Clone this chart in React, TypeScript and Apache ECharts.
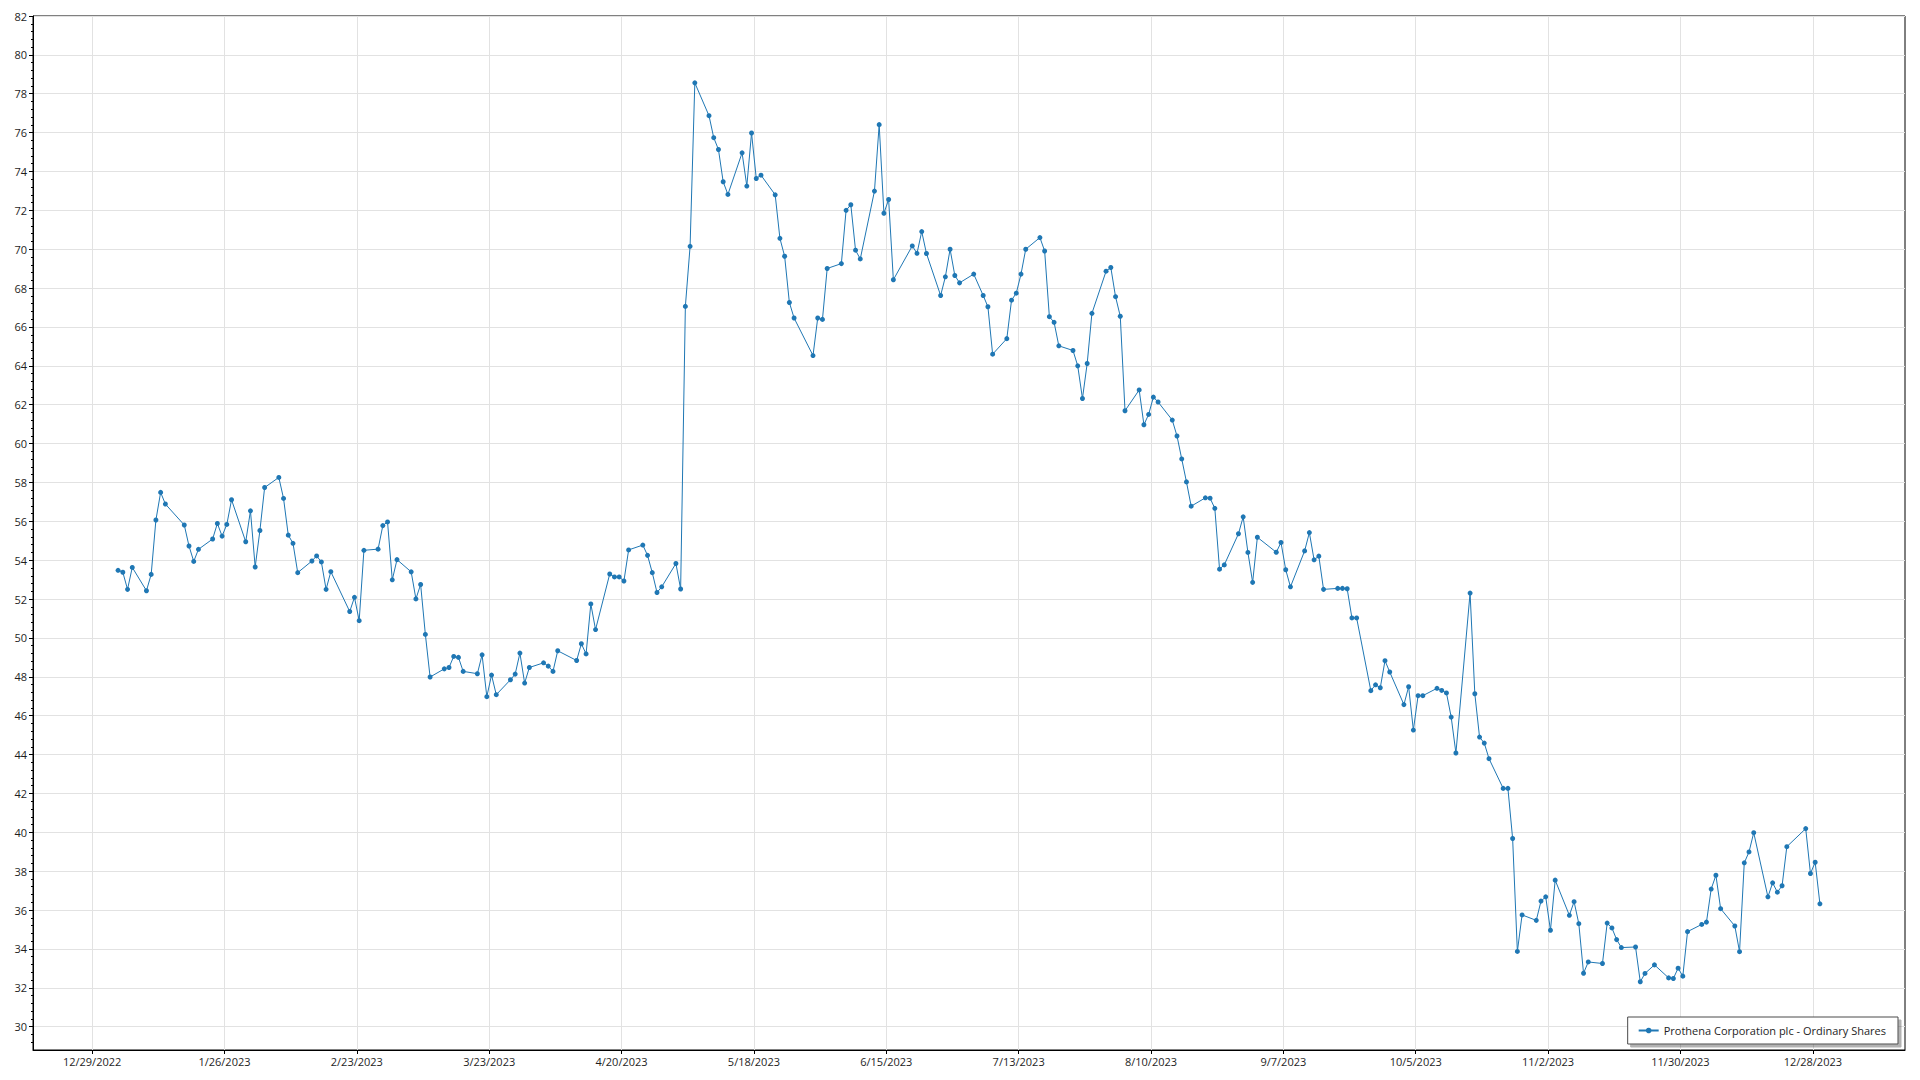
import React, { useEffect, useRef } from "react";
import * as echarts from "echarts";

const seriesName = "Prothena Corporation plc - Ordinary Shares";

const dates: string[] = [
  "2023-01-03","2023-01-04","2023-01-05","2023-01-06","2023-01-09","2023-01-10","2023-01-11","2023-01-12","2023-01-13","2023-01-17",
  "2023-01-18","2023-01-19","2023-01-20","2023-01-23","2023-01-24","2023-01-25","2023-01-26","2023-01-27","2023-01-30","2023-01-31",
  "2023-02-01","2023-02-02","2023-02-03","2023-02-06","2023-02-07","2023-02-08","2023-02-09","2023-02-10","2023-02-13","2023-02-14",
  "2023-02-15","2023-02-16","2023-02-17","2023-02-21","2023-02-22","2023-02-23","2023-02-24","2023-02-27","2023-02-28",
  "2023-03-01","2023-03-02","2023-03-03","2023-03-06","2023-03-07","2023-03-08","2023-03-09","2023-03-10","2023-03-13","2023-03-14",
  "2023-03-15","2023-03-16","2023-03-17","2023-03-20","2023-03-21","2023-03-22","2023-03-23","2023-03-24","2023-03-27","2023-03-28",
  "2023-03-29","2023-03-30","2023-03-31",
  "2023-04-03","2023-04-04","2023-04-05","2023-04-06","2023-04-10","2023-04-11","2023-04-12","2023-04-13","2023-04-14","2023-04-17",
  "2023-04-18","2023-04-19","2023-04-20","2023-04-21","2023-04-24","2023-04-25","2023-04-26","2023-04-27","2023-04-28",
  "2023-05-01","2023-05-02","2023-05-03","2023-05-04","2023-05-05","2023-05-08","2023-05-09","2023-05-10","2023-05-11","2023-05-12",
  "2023-05-15","2023-05-16","2023-05-17","2023-05-18","2023-05-19","2023-05-22","2023-05-23","2023-05-24","2023-05-25","2023-05-26",
  "2023-05-30","2023-05-31",
  "2023-06-01","2023-06-02","2023-06-05","2023-06-06","2023-06-07","2023-06-08","2023-06-09","2023-06-12","2023-06-13","2023-06-14",
  "2023-06-15","2023-06-16","2023-06-20","2023-06-21","2023-06-22","2023-06-23","2023-06-26","2023-06-27","2023-06-28","2023-06-29",
  "2023-06-30",
  "2023-07-03","2023-07-05","2023-07-06","2023-07-07","2023-07-10","2023-07-11","2023-07-12","2023-07-13","2023-07-14","2023-07-17",
  "2023-07-18","2023-07-19","2023-07-20","2023-07-21","2023-07-24","2023-07-25","2023-07-26","2023-07-27","2023-07-28","2023-07-31",
  "2023-08-01","2023-08-02","2023-08-03","2023-08-04","2023-08-07","2023-08-08","2023-08-09","2023-08-10","2023-08-11","2023-08-14",
  "2023-08-15","2023-08-16","2023-08-17","2023-08-18","2023-08-21","2023-08-22","2023-08-23","2023-08-24","2023-08-25","2023-08-28",
  "2023-08-29","2023-08-30","2023-08-31",
  "2023-09-01","2023-09-05","2023-09-06","2023-09-07","2023-09-08","2023-09-11","2023-09-12","2023-09-13","2023-09-14","2023-09-15",
  "2023-09-18","2023-09-19","2023-09-20","2023-09-21","2023-09-22","2023-09-25","2023-09-26","2023-09-27","2023-09-28","2023-09-29",
  "2023-10-02","2023-10-03","2023-10-04","2023-10-05","2023-10-06","2023-10-09","2023-10-10","2023-10-11","2023-10-12","2023-10-13",
  "2023-10-16","2023-10-17","2023-10-18","2023-10-19","2023-10-20","2023-10-23","2023-10-24","2023-10-25","2023-10-26","2023-10-27",
  "2023-10-30","2023-10-31",
  "2023-11-01","2023-11-02","2023-11-03","2023-11-06","2023-11-07","2023-11-08","2023-11-09","2023-11-10","2023-11-13","2023-11-14",
  "2023-11-15","2023-11-16","2023-11-17","2023-11-20","2023-11-21","2023-11-22","2023-11-24","2023-11-27","2023-11-28","2023-11-29",
  "2023-11-30",
  "2023-12-01","2023-12-04","2023-12-05","2023-12-06","2023-12-07","2023-12-08","2023-12-11","2023-12-12","2023-12-13","2023-12-14",
  "2023-12-15","2023-12-18","2023-12-19","2023-12-20","2023-12-21","2023-12-22","2023-12-26","2023-12-27","2023-12-28","2023-12-29",
];

const prices: number[] = [
  53.48, 53.38, 52.50, 53.63, 52.43, 53.27, 56.07, 57.49, 56.89, 55.81,
  54.73, 53.94, 54.56, 55.09, 55.89, 55.24, 55.84, 57.11, 54.95, 56.54,
  53.65, 55.53, 57.74, 58.26, 57.18, 55.29, 54.87, 53.36, 53.96, 54.22,
  53.91, 52.50, 53.41, 51.36, 52.09, 50.89, 54.51, 54.57, 55.78,
  55.97, 52.99, 54.03, 53.40, 52.01, 52.75, 50.18, 47.99, 48.41, 48.48,
  49.05, 49.00, 48.28, 48.16, 49.13, 46.98, 48.09, 47.08, 47.85, 48.14,
  49.22, 47.68, 48.48,
  48.72, 48.55, 48.28, 49.34, 48.84, 49.70, 49.18, 51.75, 50.43, 53.29,
  53.14, 53.14, 52.93, 54.53, 54.78, 54.25, 53.36, 52.34, 52.63,
  53.83, 52.52, 67.06, 70.15, 78.56, 76.87, 75.74, 75.13, 73.47, 72.82,
  74.96, 73.25, 75.98, 73.64, 73.81, 72.80, 70.56, 69.64, 67.26, 66.46,
  64.53, 66.46,
  66.39, 69.01, 69.26, 72.00, 72.29, 69.95, 69.50, 72.99, 76.41, 71.85,
  72.56, 68.43, 70.17, 69.79, 70.91, 69.78, 67.62, 68.58, 70.00, 68.65,
  68.27,
  68.72, 67.62, 67.04, 64.60, 65.40, 67.38, 67.74, 68.72, 70.00, 70.60,
  69.91, 66.53, 66.24, 65.03, 64.79, 64.00, 62.32, 64.12, 66.70, 68.87,
  69.06, 67.56, 66.55, 61.69, 62.76, 60.97, 61.50, 62.39, 62.14, 61.21,
  60.39, 59.21, 58.03, 56.78, 57.21, 57.19, 56.67, 53.54, 53.76, 55.36,
  56.23, 54.40, 52.86,
  55.18, 54.41, 54.91, 53.51, 52.63, 54.48, 55.42, 54.02, 54.21, 52.50,
  52.55, 52.55, 52.53, 51.03, 51.03, 47.29, 47.59, 47.44, 48.83, 48.25,
  46.57, 47.49, 45.26, 47.03, 47.03, 47.41, 47.30, 47.17, 45.93, 44.08,
  52.31, 47.13, 44.90, 44.59, 43.79, 42.26, 42.26, 39.68, 33.87, 35.75,
  35.47, 36.46,
  36.68, 34.96, 37.54, 35.73, 36.43, 35.30, 32.75, 33.33, 33.25, 35.33,
  35.08, 34.48, 34.07, 34.10, 32.31, 32.74, 33.18, 32.51, 32.48, 33.01,
  32.60,
  34.89, 35.26, 35.38, 37.08, 37.79, 36.07, 35.18, 33.86, 38.43, 38.99,
  39.98, 36.68, 37.40, 36.92, 37.25, 39.26, 40.19, 37.88, 38.46, 36.32,
];

const xTickLabels: string[] = [
  "12/29/2022", "1/26/2023", "2/23/2023", "3/23/2023", "4/20/2023", "5/18/2023", "6/15/2023",
  "7/13/2023", "8/10/2023", "9/7/2023", "10/5/2023", "11/2/2023", "11/30/2023", "12/28/2023",
];

const yTickValues: number[] = [
  30, 32, 34, 36, 38, 40, 42, 44, 46, 48, 50, 52, 54, 56, 58, 60, 62, 64, 66, 68, 70, 72, 74, 76, 78, 80, 82,
];

const DAY = 86400000;
const ORIGIN = Date.UTC(2022, 11, 29);
const isoToDay = (iso: string) => {
  const [y, m, d] = iso.split("-").map(Number);
  return (Date.UTC(y, m - 1, d) - ORIGIN) / DAY;
};
const labelToDay = (s: string) => {
  const [m, d, y] = s.split("/").map(Number);
  return (Date.UTC(y, m - 1, d) - ORIGIN) / DAY;
};

export default function App() {
  const ref = useRef<HTMLDivElement>(null);

  useEffect(() => {
    if (!ref.current) return;
    const chart = echarts.init(ref.current, undefined, { renderer: "svg" });

    const seriesData = dates.map((d, i) => [isoToDay(d) + 0.5, prices[i]]);
    const xTicks = xTickLabels.map(labelToDay);
    const minorY: number[] = [];
    for (let k = 73; k <= 204; k++) {
      const v = Math.round(k * 4) / 10;
      if (Math.abs(v / 2 - Math.round(v / 2)) > 1e-6) minorY.push(v);
    }

    const font = "'Open Sans', 'Noto Sans', sans-serif";

    chart.setOption({
      animation: false,
      backgroundColor: "#ffffff",
      textStyle: { fontFamily: font },
      grid: {
        left: 33,
        right: 15,
        top: 16,
        bottom: 30,
        show: true,
        borderColor: "#000000",
        borderWidth: 1,
        backgroundColor: "transparent",
        containLabel: false,
      },
      legend: {
        data: [seriesName],
        right: 22,
        bottom: 36,
        orient: "horizontal",
        itemWidth: 20,
        itemHeight: 7,
        itemGap: 6,
        padding: [8, 12, 8, 10],
        backgroundColor: "#ffffff",
        borderColor: "#4a4a4a",
        borderWidth: 1,
        borderRadius: 0,
        shadowColor: "rgba(0,0,0,0.3)",
        shadowBlur: 1,
        shadowOffsetX: 3,
        shadowOffsetY: 3,
        textStyle: { fontFamily: font, fontSize: 11, color: "#1e1e1e" },
      },
      xAxis: {
        type: "value",
        min: -12.5,
        max: 383.5,
        axisLine: { show: true, onZero: false, lineStyle: { color: "#000000", width: 1 } },
        axisTick: {
          show: true,
          length: 4,
          customValues: xTicks,
          lineStyle: { color: "#000000" },
        },
        axisLabel: {
          customValues: xTicks,
          margin: 6,
          fontSize: 11,
          color: "#1e1e1e",
          fontFamily: font,
          formatter: (v: number) => {
            const i = xTicks.findIndex((t) => Math.abs(t - v) < 0.01);
            return i >= 0 ? xTickLabels[i] : "";
          },
        },
        splitLine: { show: true, lineStyle: { color: "#e2e2e2", width: 1 } },
      },
      yAxis: [
        {
          type: "value",
          min: 28.8,
          max: 82,
          axisLine: { show: true, onZero: false, lineStyle: { color: "#000000", width: 1 } },
          axisTick: {
            show: true,
            length: 4,
            customValues: yTickValues,
            lineStyle: { color: "#000000" },
          },
          axisLabel: {
            customValues: yTickValues,
            margin: 6,
            fontSize: 11,
            color: "#1e1e1e",
            fontFamily: font,
          },
          splitLine: { show: true, lineStyle: { color: "#e2e2e2", width: 1 } },
        },
        {
          type: "value",
          min: 28.8,
          max: 82,
          position: "left",
          axisLine: { show: false, onZero: false },
          axisTick: {
            show: true,
            length: 2,
            customValues: minorY,
            lineStyle: { color: "#000000" },
          },
          axisLabel: { show: false },
          splitLine: { show: false },
        },
      ],
      series: [
        {
          name: seriesName,
          type: "line",
          yAxisIndex: 0,
          data: seriesData,
          symbol: "circle",
          symbolSize: 5,
          showSymbol: true,
          showAllSymbol: true,
          color: "#1f77b4",
          lineStyle: { width: 1, color: "#1f77b4" },
          itemStyle: { color: "#1f77b4" },
          emphasis: { disabled: true },
        },
      ],
    });

    return () => chart.dispose();
  }, []);

  return (
    <div
      ref={ref}
      style={{ position: "fixed", left: 0, top: 0, width: 1920, height: 1080, background: "#fff" }}
    />
  );
}
